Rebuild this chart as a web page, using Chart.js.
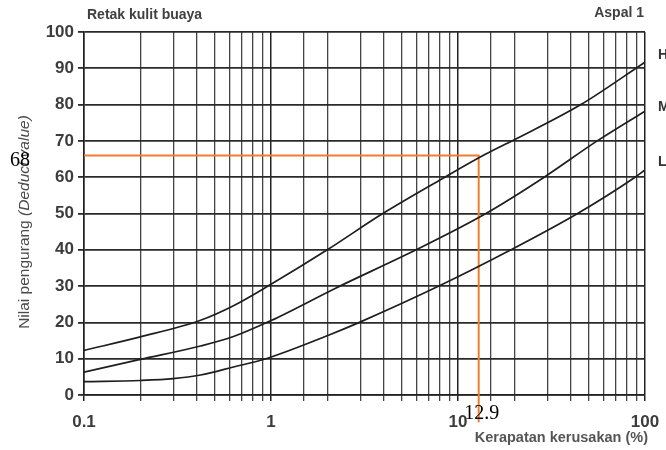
<!DOCTYPE html>
<html>
<head>
<meta charset="utf-8">
<title>Retak kulit buaya</title>
<script src="https://cdn.jsdelivr.net/npm/chart.js@4"></script>
<style>
  html, body { margin: 0; padding: 0; background: #fff; }
  #wrap { width: 666px; height: 450px; position: relative; }
</style>
</head>
<body>
<div id="wrap"><canvas id="deduct-chart"></canvas></div>
<script>
// Deduct value curves, alligator cracking
const densityH = [0.1, 0.2, 0.42, 0.63, 1, 2, 3.96, 8.5, 14, 20, 45.4, 100];
const deductH  = [12.3, 16, 20.6, 24.6, 30.5, 40, 50, 60, 66.3, 70.3, 80, 91.7];

const densityM = [0.1, 0.2, 0.42, 0.63, 1, 2.23, 5.97, 14.1, 28.9, 55.5, 100];
const deductM  = [6.3, 9.8, 13.5, 16.1, 20.5, 29.5, 40, 50, 60, 70, 78.2];

const densityL = [0.1, 0.2, 0.3, 0.42, 0.63, 0.94, 2.06, 2.97, 7.9, 19.2, 43.6, 88.5, 100];
const deductL  = [3.7, 4, 4.5, 5.5, 7.7, 10, 16.6, 20, 30, 40, 50, 60, 62];

const curveLabels = ['H', 'M', 'L'];
const xTickLabels = ['0.1', '1', '10', '100'];

// orange reading line
const readDensity = 12.9;
const readDeduct = 66;
const readLabelX = '12.9';
const readLabelY = '68';

const toPoints = (xs, ys) => xs.map((x, i) => ({ x, y: ys[i] }));
const isDecade = (v) => Math.abs(Math.log10(v) - Math.round(Math.log10(v))) < 1e-6;

const curveStyle = {
  borderColor: '#1e1e1e',
  borderWidth: 1.7,
  pointRadius: 0,
  fill: false,
  cubicInterpolationMode: 'monotone'
};

const sans = '"Liberation Sans", Arial, sans-serif';

// texts that are not part of the axes
const textPlugin = {
  id: 'texts',
  afterDraw(chart) {
    const { ctx, scales: { x, y } } = chart;
    ctx.save();

    ctx.fillStyle = '#404040';
    ctx.font = 'bold 14px ' + sans;
    ctx.textBaseline = 'middle';
    ctx.textAlign = 'left';
    ctx.fillText('Retak kulit buaya', 87, 15);
    ctx.textAlign = 'right';
    ctx.fillText('Aspal 1', 644, 13);

    // curve names at the right edge
    ctx.fillStyle = '#333';
    ctx.font = 'bold 14px ' + sans;
    ctx.textAlign = 'left';
    ctx.fillText(curveLabels[0], 658, 55);
    ctx.fillText(curveLabels[1], 658, 107);
    ctx.fillText(curveLabels[2], 658, 162);

    // x axis title
    ctx.fillStyle = '#555';
    ctx.font = 'bold 14.5px ' + sans;
    ctx.textAlign = 'right';
    ctx.fillText('Kerapatan kerusakan (%)', 648, 438);

    // y axis title, part of it italic
    ctx.translate(25, 222);
    ctx.rotate(-Math.PI / 2);
    const partA = 'Nilai pengurang ';
    const partB = '(Deduct value)';
    const fontA = '15.5px ' + sans;
    const fontB = 'italic 15.5px ' + sans;
    ctx.font = fontA;
    const wA = ctx.measureText(partA).width;
    ctx.font = fontB;
    const wB = ctx.measureText(partB).width;
    const start = -(wA + wB) / 2;
    ctx.fillStyle = '#4a4a4a';
    ctx.textAlign = 'left';
    ctx.font = fontA;
    ctx.fillText(partA, start, 0);
    ctx.font = fontB;
    ctx.fillText(partB, start + wA, 0);
    ctx.setTransform(1, 0, 0, 1, 0, 0);

    // reading values
    ctx.fillStyle = '#000';
    ctx.font = '20px "Liberation Serif", "Times New Roman", serif';
    ctx.textBaseline = 'middle';
    ctx.textAlign = 'left';
    ctx.fillText(readLabelY, 10, y.getPixelForValue(readDeduct) + 5);
    ctx.textAlign = 'center';
    ctx.fillText(readLabelX, x.getPixelForValue(readDensity) + 3, 414);

    ctx.restore();
  }
};

new Chart(document.getElementById('deduct-chart'), {
  type: 'line',
  data: {
    datasets: [
      { label: 'H', data: toPoints(densityH, deductH), ...curveStyle },
      { label: 'M', data: toPoints(densityM, deductM), ...curveStyle },
      { label: 'L', data: toPoints(densityL, deductL), ...curveStyle },
      {
        label: 'reading',
        data: [
          { x: 0.1, y: readDeduct },
          { x: readDensity, y: readDeduct },
          { x: readDensity, y: -7.5 }
        ],
        borderColor: '#F07D2E',
        borderWidth: 2,
        pointRadius: 0,
        tension: 0,
        fill: false,
        clip: false
      }
    ]
  },
  options: {
    responsive: true,
    maintainAspectRatio: false,
    animation: false,
    layout: { padding: { left: 0, right: 21, top: 32, bottom: 0 } },
    plugins: {
      legend: { display: false },
      tooltip: { enabled: false }
    },
    scales: {
      x: {
        type: 'logarithmic',
        min: 0.1,
        max: 100,
        afterFit: (scale) => {
          scale.height = 55;
          // labels may hang over the edges, the layout padding covers them
          scale.paddingLeft = 0;
          scale.paddingRight = 0;
        },
        border: { display: true, color: '#222', width: 1.5 },
        grid: {
          color: (c) => (c.tick && isDecade(c.tick.value)) ? '#222' : '#444',
          lineWidth: (c) => (c.tick && isDecade(c.tick.value)) ? 1.5 : 1.3,
          tickLength: 6
        },
        ticks: {
          autoSkip: false,
          maxRotation: 0,
          padding: 11,
          color: '#3c3c3c',
          font: { family: sans, size: 17, weight: 'bold' },
          callback: (val) => {
            if (!isDecade(val)) return '';
            return xTickLabels[Math.round(Math.log10(val)) + 1];
          }
        }
      },
      y: {
        min: 0,
        max: 100,
        afterFit: (scale) => { scale.width = 84; },
        border: { display: true, color: '#222', width: 1.5 },
        grid: { color: '#2a2a2a', lineWidth: 1.8, tickLength: 6 },
        ticks: {
          stepSize: 10,
          padding: 4,
          color: '#3c3c3c',
          font: { family: sans, size: 17, weight: 'bold' }
        }
      }
    }
  },
  plugins: [textPlugin]
});
</script>
</body>
</html>
